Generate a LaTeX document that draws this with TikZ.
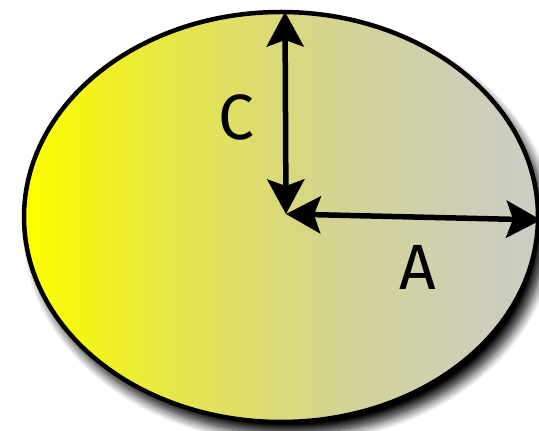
\documentclass[tikz,border=0pt]{standalone}
\usepackage{fontspec}
\setmainfont{Fira Sans}
\usetikzlibrary{calc,shadows.blur}
\pgfdeclarehorizontalshading{yellowgray}{100bp}{
  rgb(0bp)=(1,1,0);
  rgb(25bp)=(1,1,0);
  rgb(30bp)=(0.96,0.96,0.08);
  rgb(40bp)=(0.9,0.9,0.3);
  rgb(55bp)=(0.83,0.83,0.57);
  rgb(68bp)=(0.81,0.81,0.72);
  rgb(75bp)=(0.8,0.8,0.77);
  rgb(100bp)=(0.8,0.8,0.77)}
\tikzset{
  dimline/.style={line width=5.5pt, shorten <=16pt, shorten >=16pt},
  lab/.style={font=\fontsize{64}{64}\selectfont, inner sep=0pt}
}
\newcommand\mytip[2]{%
  \path ($(#1)!35pt!(#2)$) coordinate (tb);
  \fill ($(#1)$) -- ($(tb)!19pt!90:(#1)$) -- ($(#1)!28pt!(#2)$) -- ($(tb)!19pt!-90:(#1)$) -- cycle;}
\begin{document}
\begin{tikzpicture}[x=1pt,y=1pt]
\useasboundingbox (0,0) rectangle (539,431);
\path[blur shadow={shadow xshift=8pt, shadow yshift=-12pt, shadow blur radius=10pt, shadow opacity=100, shadow blur steps=12},
      shading=yellowgray, draw=black, line width=4.5pt]
      (281,214) ellipse [x radius=257, y radius=205];
\coordinate (O) at (286,217);
\coordinate (T) at (285,419);
\coordinate (R) at (541,211);
\draw[dimline] (O) -- (T);
\draw[dimline] (O) -- (R);
\mytip{O}{T}
\mytip{T}{O}
\mytip{O}{R}
\mytip{R}{O}
\node[lab] (C) at (236,314) {C};
\node[lab] (A) at (418,164) {A};
\end{tikzpicture}
\end{document}
